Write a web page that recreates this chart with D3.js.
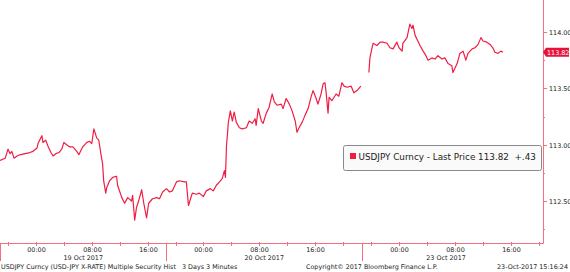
<!DOCTYPE html>
<html>
<head>
<meta charset="utf-8">
<script src="https://cdn.jsdelivr.net/npm/d3@7"></script>
<style>
  body { margin: 0; background: #fff; }
  svg { display: block; font-family: Tahoma, "DejaVu Sans", sans-serif; }
</style>
</head>
<body>
<div id="chart"></div>
<script>
// USDJPY 3 days (approx, every ~25 min)
const times = [
  "2017-10-18 18:51","2017-10-18 19:36","2017-10-18 20:00","2017-10-18 20:18","2017-10-18 20:33","2017-10-18 20:51",
  "2017-10-18 21:18","2017-10-18 21:42","2017-10-18 22:27","2017-10-18 23:09","2017-10-18 23:33","2017-10-19 00:09",
  "2017-10-19 00:18","2017-10-19 00:51","2017-10-19 01:00","2017-10-19 01:24","2017-10-19 01:42","2017-10-19 02:09",
  "2017-10-19 02:27","2017-10-19 02:51","2017-10-19 03:18","2017-10-19 03:42","2017-10-19 04:00","2017-10-19 04:24",
  "2017-10-19 04:51","2017-10-19 05:18","2017-10-19 05:51","2017-10-19 06:09","2017-10-19 06:27","2017-10-19 06:42",
  "2017-10-19 07:18","2017-10-19 07:42","2017-10-19 08:00","2017-10-19 08:18","2017-10-19 08:42","2017-10-19 09:00",
  "2017-10-19 09:18","2017-10-19 09:33","2017-10-19 09:42","2017-10-19 10:00","2017-10-19 10:09","2017-10-19 10:33",
  "2017-10-19 11:00","2017-10-19 11:33","2017-10-19 11:42","2017-10-19 12:18","2017-10-19 12:42","2017-10-19 13:09",
  "2017-10-19 13:42","2017-10-19 13:51","2017-10-19 14:09","2017-10-19 14:24","2017-10-19 14:51","2017-10-19 15:09",
  "2017-10-19 15:27","2017-10-19 15:51","2017-10-19 16:09","2017-10-19 16:42","2017-10-19 17:18","2017-10-19 17:42",
  "2017-10-19 18:09","2017-10-19 18:42","2017-10-19 19:09","2017-10-19 19:33","2017-10-19 20:09","2017-10-19 20:33",
  "2017-10-19 21:18","2017-10-19 21:33","2017-10-19 21:51","2017-10-19 22:09","2017-10-19 22:24","2017-10-19 23:00",
  "2017-10-19 23:24","2017-10-20 00:00","2017-10-20 00:24","2017-10-20 01:00","2017-10-20 01:24","2017-10-20 01:51",
  "2017-10-20 02:18","2017-10-20 02:42","2017-10-20 03:00","2017-10-20 03:09","2017-10-20 03:18","2017-10-20 03:27",
  "2017-10-20 03:33","2017-10-20 03:51","2017-10-20 04:09","2017-10-20 04:24","2017-10-20 04:42","2017-10-20 05:09",
  "2017-10-20 05:33","2017-10-20 06:09","2017-10-20 06:33","2017-10-20 07:00","2017-10-20 07:24","2017-10-20 07:33",
  "2017-10-20 07:51","2017-10-20 08:18","2017-10-20 08:33","2017-10-20 09:00","2017-10-20 09:24","2017-10-20 09:51",
  "2017-10-20 10:09","2017-10-20 10:33","2017-10-20 11:09","2017-10-20 11:24","2017-10-20 11:51","2017-10-20 12:18",
  "2017-10-20 12:42","2017-10-20 13:09","2017-10-20 13:24","2017-10-20 13:42","2017-10-20 14:09","2017-10-20 14:33",
  "2017-10-20 15:00","2017-10-20 15:24","2017-10-20 15:42","2017-10-20 16:09","2017-10-20 16:24","2017-10-20 16:51",
  "2017-10-20 17:09","2017-10-20 17:24","2017-10-20 17:33","2017-10-20 17:51","2017-10-20 18:00","2017-10-20 18:24",
  "2017-10-20 19:00","2017-10-20 19:24","2017-10-20 19:51","2017-10-20 20:09","2017-10-20 20:33","2017-10-20 21:09",
  "2017-10-20 21:33","2017-10-20 22:00","2017-10-20 22:33",
  "2017-10-22 19:42","2017-10-22 19:51","2017-10-22 20:09","2017-10-22 20:18","2017-10-22 20:51","2017-10-22 21:18",
  "2017-10-22 21:42","2017-10-22 22:18","2017-10-22 22:42","2017-10-22 23:09","2017-10-22 23:42","2017-10-23 00:00",
  "2017-10-23 00:27","2017-10-23 00:33","2017-10-23 01:09","2017-10-23 01:33","2017-10-23 01:51","2017-10-23 02:00",
  "2017-10-23 02:18","2017-10-23 02:42","2017-10-23 03:00","2017-10-23 03:27","2017-10-23 03:51","2017-10-23 04:09",
  "2017-10-23 04:42","2017-10-23 05:09","2017-10-23 05:33","2017-10-23 06:09","2017-10-23 06:33","2017-10-23 07:00",
  "2017-10-23 07:33","2017-10-23 07:42","2017-10-23 08:18","2017-10-23 08:42","2017-10-23 09:09","2017-10-23 09:33",
  "2017-10-23 09:51","2017-10-23 10:27","2017-10-23 10:51","2017-10-23 11:18","2017-10-23 11:42","2017-10-23 12:00",
  "2017-10-23 12:33","2017-10-23 13:00","2017-10-23 13:24","2017-10-23 13:42","2017-10-23 14:09","2017-10-23 14:33",
  "2017-10-23 14:51"
];
const prices = [
  112.86,112.88,112.96,112.92,112.94,112.88,
  112.90,112.91,112.92,112.93,112.94,112.97,
  113.01,113.08,113.02,113.04,112.99,112.93,
  112.90,112.92,112.93,112.96,113.02,113.00,
  112.98,112.98,112.94,112.91,112.95,112.98,
  113.02,113.03,113.01,113.14,113.06,113.04,
  112.92,112.83,112.68,112.57,112.62,112.68,
  112.71,112.72,112.64,112.53,112.48,112.53,
  112.50,112.55,112.33,112.44,112.53,112.60,
  112.48,112.35,112.48,112.52,112.53,112.52,
  112.58,112.61,112.58,112.59,112.67,112.68,
  112.67,112.67,112.46,112.52,112.57,112.56,
  112.57,112.54,112.59,112.61,112.59,112.64,
  112.67,112.70,112.77,112.71,112.99,113.10,
  113.19,113.30,113.21,113.29,113.20,113.15,
  113.14,113.15,113.21,113.19,113.23,113.17,
  113.32,113.21,113.19,113.28,113.33,113.45,
  113.38,113.35,113.36,113.32,113.41,113.36,
  113.30,113.21,113.11,113.15,113.20,113.26,
  113.32,113.42,113.48,113.41,113.36,113.45,
  113.54,113.55,113.48,113.28,113.42,113.39,
  113.45,113.43,113.55,113.52,113.51,113.52,
  113.46,113.48,113.52,
  113.64,113.77,113.86,113.90,113.88,113.91,
  113.91,113.90,113.86,113.85,113.91,113.86,
  113.83,113.90,113.95,114.07,114.03,114.06,
  113.97,113.92,113.88,113.83,113.79,113.75,
  113.77,113.76,113.79,113.76,113.77,113.72,
  113.70,113.64,113.72,113.81,113.83,113.75,
  113.81,113.85,113.86,113.89,113.95,113.92,
  113.91,113.89,113.86,113.82,113.81,113.83,
  113.82
];
// axis break: Friday close -> Sunday open collapsed
const axisTimes = ["2017-10-18 18:51", "2017-10-20 22:43", "2017-10-22 18:43", "2017-10-23 20:34"];
const daySpans = [
  ["2017-10-18 18:51", "2017-10-19 18:42", "19 Oct 2017"],
  ["2017-10-19 18:42", "2017-10-20 22:43", "20 Oct 2017"],
  ["2017-10-22 18:43", "2017-10-23 18:43", "23 Oct 2017"]
];
const yMajor = [112.5, 113.0, 113.5, 114.0];
const yMinor = [112.25, 112.75, 113.25, 113.75];
const lastPrice = 113.82;
const netChange = "+.43";

const W = 570, H = 272;
const axisCol = "#f2707f", lineCol = "#ef1d43", txtCol = "#222";
const parse = d3.timeParse("%Y-%m-%d %H:%M");

const svg = d3.select("#chart").append("svg").attr("width", W).attr("height", H);

const at = axisTimes.map(parse);
const x = d3.scaleTime().domain(at).range([0, 362, 362, 543]);
const y = d3.scaleLinear().domain([112.5, 114]).range([201, 32]);
const plotR = 543, plotB = 243;

const data = times.map((t, i) => ({ t: parse(t), v: prices[i] }));
// split into sessions where there is a big gap
const sessions = [[]];
data.forEach((d, i) => {
  if (i > 0 && d.t - data[i - 1].t > 3 * 3600e3) sessions.push([]);
  sessions[sessions.length - 1].push(d);
});

// frame
svg.append("line").attr("x1", plotR + 0.5).attr("x2", plotR + 0.5).attr("y1", 0).attr("y2", plotB + 0.5)
  .attr("stroke", axisCol);
svg.append("line").attr("x1", 0).attr("x2", plotR + 0.5).attr("y1", plotB + 0.5).attr("y2", plotB + 0.5)
  .attr("stroke", axisCol);

// y ticks
yMajor.forEach(v => {
  const yy = Math.round(y(v)) + 0.5;
  svg.append("line").attr("x1", plotR).attr("x2", plotR + 4).attr("y1", yy).attr("y2", yy).attr("stroke", axisCol);
  svg.append("text").attr("x", plotR + 6).attr("y", yy).attr("dy", "0.35em")
    .attr("font-size", 6.4).attr("fill", txtCol).text(v.toFixed(2));
});
yMinor.forEach(v => {
  const yy = Math.round(y(v)) + 0.5;
  svg.append("line").attr("x1", plotR).attr("x2", plotR + 2).attr("y1", yy).attr("y2", yy).attr("stroke", axisCol);
});

// x ticks every 4 hours, labels every 8
const fmt = d3.timeFormat("%H:%M");
const ticks = d3.timeHour.every(4).range(at[0], at[3])
  .filter(t => !(t > at[1] && t < at[2]));
ticks.forEach(t => {
  const xx = Math.round(x(t)) + 0.5;
  svg.append("line").attr("x1", xx).attr("x2", xx).attr("y1", plotB - 1).attr("y2", plotB + 3).attr("stroke", axisCol);
  if (t.getHours() % 8 === 0) {
    svg.append("text").attr("x", xx).attr("y", 251.5).attr("text-anchor", "middle")
      .attr("font-size", 6.4).attr("fill", txtCol).text(fmt(t));
  }
});

// day separators and date labels
daySpans.forEach(([s, e, lbl], i) => {
  const x0 = x(parse(s)), x1 = x(parse(e));
  if (i < 2 || true) {
    const xs = i === 0 ? 0.5 : Math.round(x0) + 0.5;
    svg.append("line").attr("x1", xs).attr("x2", xs).attr("y1", plotB).attr("y2", 261).attr("stroke", axisCol);
  }
  svg.append("text").attr("x", (x0 + x1) / 2).attr("y", 259.5).attr("text-anchor", "middle")
    .attr("font-size", 6.4).attr("fill", txtCol).text(lbl);
});

// price line
const line = d3.line().x(d => x(d.t)).y(d => y(d.v));
sessions.forEach(s => {
  svg.append("path").datum(s).attr("d", line).attr("fill", "none")
    .attr("stroke", lineCol).attr("stroke-width", 1.2).attr("stroke-linejoin", "round");
});

// last price tag
const ly = y(lastPrice);
svg.append("path")
  .attr("d", `M${plotR},${ly} L${plotR + 3},${ly - 4.5} H${W - 1} V${ly + 4.5} H${plotR + 3} Z`)
  .attr("fill", "#e5123b");
svg.append("text").attr("x", plotR + 4).attr("y", ly).attr("dy", "0.35em")
  .attr("font-size", 6.4).attr("fill", "#fff").text(lastPrice.toFixed(2));

// legend
const lg = svg.append("g").attr("transform", "translate(343.5,145.5)");
lg.append("rect").attr("width", 198).attr("height", 25).attr("rx", 2)
  .attr("fill", "#fafafa").attr("stroke", "#8a8a8a");
lg.append("rect").attr("x", 6.5).attr("y", 7.5).attr("width", 6).attr("height", 6).attr("fill", lineCol);
lg.append("text").attr("x", 15).attr("y", 14.5)
  .attr("font-size", 8.8).attr("fill", "#222")
  .text(`USDJPY Curncy - Last Price ${lastPrice.toFixed(2)}  ${netChange}`)
  .attr("xml:space", "preserve").style("white-space", "pre");

// footer
const foot = svg.append("g").attr("font-size", 6.4).attr("fill", txtCol);
foot.append("text").attr("x", 1).attr("y", 268.5).style("white-space", "pre")
  .text("USDJPY Curncy (USD-JPY X-RATE) Multiple Security Hist   3 Days 3 Minutes");
foot.append("text").attr("x", 306).attr("y", 268.5).text("Copyright\u00A9 2017 Bloomberg Finance L.P.");
foot.append("text").attr("x", 568).attr("y", 268.5).attr("text-anchor", "end").text("23-Oct-2017 15:16:24");
</script>
</body>
</html>
